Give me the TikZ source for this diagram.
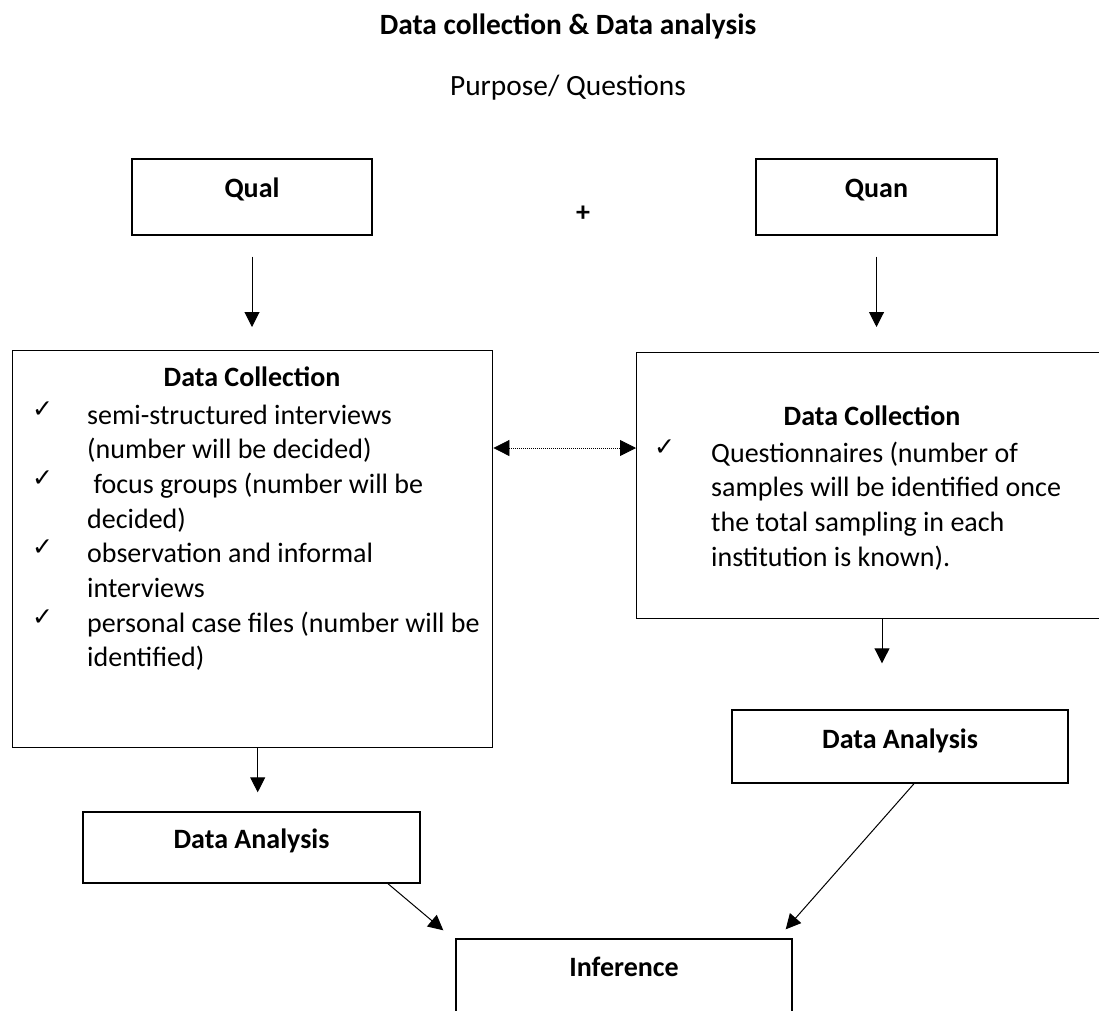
\documentclass[tikz,border=0pt]{standalone}
\usepackage{fontspec}
\setmainfont{Carlito}
\newfontfamily\chkfont{DejaVu Sans}
\usetikzlibrary{arrows.meta,calc}

\newcommand\bodysize{\fontsize{28pt}{34.7pt}\selectfont}
\newcommand\headsize{\fontsize{29.4pt}{35pt}\selectfont}
\newcommand\chk{\raisebox{7pt}{\chkfont\fontsize{25pt}{25pt}\selectfont ✓}}

\begin{document}
\begin{tikzpicture}[x=1pt, y=-1pt, >={Triangle[length=15pt,width=15pt]},
  box/.style={draw, line width=1.4pt, inner sep=0pt, anchor=base, font=\bodysize\bfseries},
  frame/.style={draw, line width=1.4pt, inner sep=0pt, anchor=north west},
  txt/.style={inner sep=0pt, anchor=base, font=\bodysize},
  arr/.style={->, line width=1pt}]

\useasboundingbox (0,0) rectangle (1099,1010);

\node[txt, font=\headsize\bfseries] at (568,34) (title) {Data collection \& Data analysis};
\node[txt, font=\headsize] at (568,95) (purpose) {Purpose/ Questions};

\node[box, minimum width=240pt, text height=38pt, text depth=38pt] at (252,197) (qual) {Qual};
\node[txt, font=\bodysize\bfseries] at (583,221) (plus) {+};
\node[box, minimum width=241pt, text height=38pt, text depth=38pt] at (876.5,197) (quan) {Quan};

% qualitative side
\node[frame, minimum width=480pt, minimum height=397pt] at (12,350) (dcl) {};
\node[txt, font=\bodysize\bfseries] at (252,386) (dclhead) {Data Collection};
\node[txt, anchor=base west] at (32,424) (dcllist) {%
  \begin{tabular}[t]{@{}p{55pt}@{}l@{}}
  \chk & semi-structured interviews\\
       & (number will be decided)\\
  \chk & \ focus groups (number will be\\
       & decided)\\
  \chk & observation and informal\\
       & interviews\\
  \chk & personal case files (number will be\\
       & identified)
  \end{tabular}};

% quantitative side
\node[frame, minimum width=480pt, minimum height=266pt] at (636,352) (dcr) {};
\node[txt, font=\bodysize\bfseries] at (872,425) (dcrhead) {Data Collection};
\node[txt, anchor=base west] at (654,462) (dcrlist) {%
  \begin{tabular}[t]{@{}p{57pt}@{}l@{}}
  \chk & Questionnaires (number of\\
       & samples will be identified once\\
       & the total sampling in each\\
       & institution is known).
  \end{tabular}};

\node[box, minimum width=337pt, text height=36pt, text depth=35pt] at (251.5,848) (dal) {Data Analysis};
\node[box, minimum width=336pt, text height=38pt, text depth=35pt] at (900,748) (dar) {Data Analysis};
\node[box, minimum width=336pt, text height=37pt, text depth=80pt] at (624,976) (inf) {Inference};

\draw[arr, shorten <=21pt, shorten >=23pt] (qual.south) -- (qual.south |- dcl.north);
\draw[arr, shorten <=21pt, shorten >=25pt] (quan.south) -- (quan.south |- dcr.north);

\coordinate (lk) at (560,448);
\draw[<->, line width=0.8pt, dash pattern=on 0.8pt off 1.2pt,
  >={Triangle[length=16pt,width=16pt]}] (lk -| dcl.east) -- (lk -| dcr.west);

\draw[arr, shorten >=19pt] ([xshift=5pt]dcl.south) -- ([xshift=5pt]dcl.south |- dal.north);
\draw[arr, shorten >=46pt] ([xshift=-18pt]dar.north |- dcr.south) -- ([xshift=-18pt]dar.north);

\draw[arr] ([xshift=136.5pt]dal.south) -- ([xshift=-12pt,yshift=8pt]inf.north west);
\draw[arr] ([xshift=14pt]dar.south) -- ([xshift=-7pt,yshift=9pt]inf.north east);

\end{tikzpicture}
\end{document}
